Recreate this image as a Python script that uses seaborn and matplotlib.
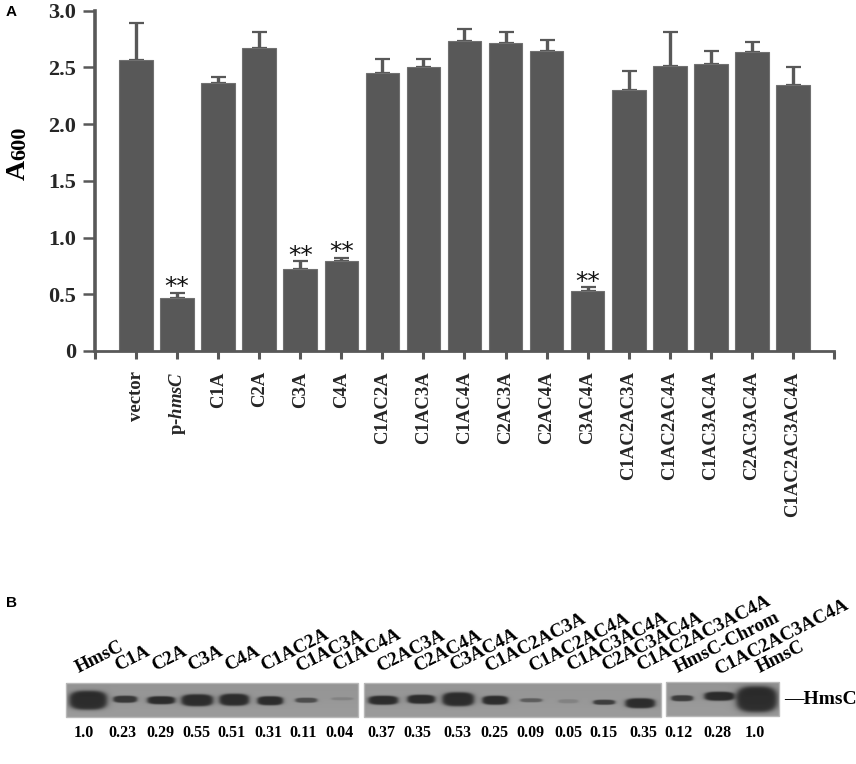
# Biofilm assay bars (A600) and the HmsC western blot below
import numpy as np
import pandas as pd
import seaborn as sns
import matplotlib
matplotlib.use('Agg')
import matplotlib.pyplot as plt
from matplotlib.patches import Rectangle

strains = ['vector', 'p-hmsC', 'C1A', 'C2A', 'C3A', 'C4A', 'C1AC2A', 'C1AC3A', 'C1AC4A',
           'C2AC3A', 'C2AC4A', 'C3AC4A', 'C1AC2AC3A', 'C1AC2AC4A', 'C1AC3AC4A',
           'C2AC3AC4A', 'C1AC2AC3AC4A']
a600 = [2.56, 0.47, 2.36, 2.67, 0.72, 0.79, 2.45, 2.50, 2.73, 2.71, 2.64, 0.53, 2.30, 2.51,
        2.53, 2.63, 2.34]
a600_err = [0.33, 0.04, 0.05, 0.14, 0.07, 0.03, 0.12, 0.07, 0.11, 0.10, 0.10, 0.03, 0.17,
            0.30, 0.11, 0.09, 0.16]
significant = ['p-hmsC', 'C3A', 'C4A', 'C3AC4A']

blot_labels = ['HmsC', 'C1A', 'C2A', 'C3A', 'C4A', 'C1AC2A', 'C1AC3A', 'C1AC4A', 'C2AC3A',
               'C2AC4A', 'C3AC4A', 'C1AC2AC3A', 'C1AC2AC4A', 'C1AC3AC4A', 'C2AC3AC4A',
               'C1AC2AC3AC4A', 'HmsC-Chrom', 'C1AC2AC3AC4A', 'HmsC']
blot_ratios = ['1.0', '0.23', '0.29', '0.55', '0.51', '0.31', '0.11', '0.04', '0.37', '0.35',
               '0.53', '0.25', '0.09', '0.05', '0.15', '0.35', '0.12', '0.28', '1.0']

# lane layout on the blot, in picture pixels
label_x = [79, 118, 155, 191, 228, 264, 299, 336, 380, 417, 453, 488, 532, 570, 605, 640, 678, 718, 760]
label_y = [673, 671, 671, 671, 671, 671, 672, 671, 672, 672, 671, 672, 672, 671, 671, 671, 673, 675, 673]
ratio_x = [84, 122, 160, 196, 232, 268, 303, 339, 381, 417, 457, 494, 530, 568, 604, 643, 679, 717, 755]
band_x = [88, 125, 161, 197, 234, 270, 306, 342, 383, 421, 458, 495, 531, 568, 604, 640, 682, 719, 756.5]
band_y = [700, 699, 700, 700, 699.5, 700.5, 700, 698.5, 700, 699, 699, 700, 700, 701, 702, 703, 698, 696, 699]
band_w = [19, 12, 14, 16, 15, 13, 11, 11, 15, 14, 16, 13, 11, 10, 11, 15, 11, 15, 20.5]
band_h = [9.5, 3.5, 4, 6, 6, 4.5, 2.5, 1.5, 4.5, 4.5, 7, 4.5, 2, 2, 2.5, 5, 3, 4.5, 13]
band_dark = [1, 0.9, 1, 1, 1, 1, 0.7, 0.2, 1, 1, 1, 1, 0.55, 0.2, 0.85, 1, 0.85, 1, 1]
panels = [(66, 358, 683, 717), (364, 661, 683, 717), (666, 779, 682, 716)]

W, H = 856, 764
GREY = '#585858'

sns.set_style('ticks')
plt.rcParams['font.family'] = ['Liberation Serif', 'DejaVu Sans']
plt.rcParams['font.weight'] = 'bold'
plt.rcParams['mathtext.fontset'] = 'custom'
plt.rcParams['mathtext.bfit'] = 'Liberation Serif:italic:bold'

fig = plt.figure(figsize=(W / 100, H / 100), dpi=100, facecolor='white')
ax = fig.add_axes([95 / W, 1 - 351 / H, (834 - 95) / W, (351 - 10.5) / H])

# bars
df = pd.DataFrame({'strain': strains, 'a600': a600, 'err': a600_err})
sns.barplot(data=df, x='strain', y='a600', color=GREY, saturation=1, width=0.82,
            edgecolor='#707070', linewidth=0.8, errorbar=None, zorder=2, ax=ax)
pos = np.arange(len(strains))
ax.errorbar(pos, df['a600'], yerr=[np.zeros(len(pos)), df['err']], fmt='none', ecolor=GREY,
            elinewidth=2.4, capsize=5.4, capthick=1.6, zorder=1)

# significance stars
for s in significant:
    i = strains.index(s)
    ax.annotate('**', (i, a600[i] + a600_err[i]), xytext=(0, -4.5), textcoords='offset points',
                ha='center', va='bottom', fontsize=18, fontweight='normal', family='DejaVu Sans',
                color='#111111')

ax.set_xlim(-1, 17)
ax.set_ylim(0, 3)
ax.set_yticks(np.arange(0, 3.5, 0.5))
ax.set_yticklabels(['0', '0.5', '1.0', '1.5', '2.0', '2.5', '3.0'], fontsize=16, fontweight='bold')
ax.set_xticks(np.arange(-1, 18))
ax.set_xticklabels([''] + [r'p-$\mathbfit{hmsC}$' if s == 'p-hmsC' else s for s in strains] + [''],
                   rotation=90, fontsize=13.5, fontweight='bold')
ax.tick_params(axis='y', length=8.6, width=1.8, color=GREY, pad=5)
ax.tick_params(axis='x', length=5.5, width=2.2, color=GREY, pad=9)
ax.set_xlabel('')
ax.set_ylabel('')
for side in ['top', 'right']:
    ax.spines[side].set_visible(False)
ax.spines['left'].set_linewidth(2.6)
ax.spines['bottom'].set_linewidth(2)
ax.spines['left'].set_color(GREY)
ax.spines['bottom'].set_color(GREY)

# overlay in picture pixels for the blot and free labels
ov = fig.add_axes([0, 0, 1, 1], facecolor='none')
for (x0, x1, y0, y1) in panels:
    xx, yy = np.meshgrid(np.arange(x0, x1, 0.5), np.arange(y0, y1, 0.5))
    img = 0.58 + 0.03 * (yy - y0) / (y1 - y0)
    for bx, by, bw, bh, bd in zip(band_x, band_y, band_w, band_h, band_dark):
        if x0 <= bx <= x1:
            # rounder than an ellipse, the bands are blunt at the ends
            r = (np.abs((xx - bx) / bw) ** 3 + np.abs((yy - by) / bh) ** 3) ** (1 / 3)
            img = img - 0.42 * bd * (1 / (1 + r ** 12))
    ov.imshow(img, cmap='gray', vmin=0, vmax=1, extent=(x0, x1, y1, y0), aspect='auto',
              interpolation='bilinear')
    ov.add_patch(Rectangle((x0, y0), x1 - x0, y1 - y0, fill=False, edgecolor='#b8b8b8', linewidth=1))

for name, x, y in zip(blot_labels, label_x, label_y):
    ov.text(x, y, name, rotation=27, rotation_mode='anchor', ha='left', va='baseline',
            fontsize=13.7, fontweight='bold', color='black')
for val, x in zip(blot_ratios, ratio_x):
    ov.text(x, 733, val, ha='center', va='center', fontsize=11.5, fontweight='bold', color='black')
ov.text(784, 699, '—HmsC', ha='left', va='center', fontsize=14, fontweight='bold', color='black')

ov.text(25, 180, 'A', rotation=90, rotation_mode='anchor', ha='left', va='baseline', fontsize=20,
        fontweight='bold', color='black')
ov.text(25, 160, '600', rotation=90, rotation_mode='anchor', ha='left', va='baseline', fontsize=16,
        fontweight='bold', color='black')
ov.text(6, 16, 'A', family='Liberation Sans', fontsize=11, fontweight='bold', color='black')
ov.text(6.5, 607, 'B', family='Liberation Sans', fontsize=11, fontweight='bold', color='black')

ov.set_xlim(0, W)
ov.set_ylim(H, 0)
ov.axis('off')

fig.savefig('out.png', dpi=100)
